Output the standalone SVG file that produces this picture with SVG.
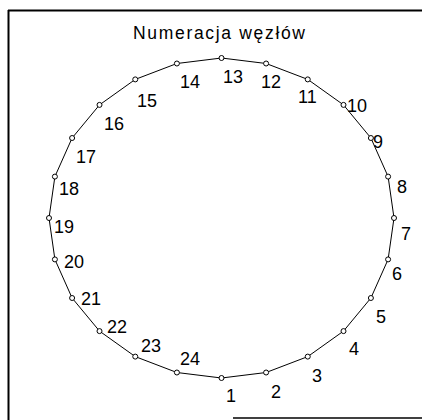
<svg xmlns="http://www.w3.org/2000/svg" width="422" height="420" viewBox="0 0 422 420">
<style>
.n{fill:#fff;stroke:#000;stroke-width:1}
.t{font-family:"Liberation Sans",Arial,sans-serif;font-size:18px;fill:#000}
.ti{font-family:"Liberation Sans",Arial,sans-serif;font-size:17.5px;fill:#000}
.f{stroke:#000;fill:none}
</style>
<rect width="422" height="420" fill="#fff"/>
<g id="frame">
<line class="f" x1="8" y1="10.5" x2="422" y2="10.5" stroke-width="2"/>
<line class="f" x1="8.5" y1="10" x2="8.5" y2="420" stroke-width="2"/>
<line class="f" x1="233" y1="418" x2="422" y2="418" stroke-width="1.5"/>
</g>
<text class="ti" x="133" y="39" textLength="172" lengthAdjust="spacing">Numeracja węzłów</text>
<g id="connectors">
<polygon class="f" stroke-width="1" points="221.5,378 266.1,372.5 307.75,356.6 343.5,331.1 370.9,298 388.1,259.4 394,218 388.1,176.6 370.9,138 343.5,104.9 307.75,79.4 266.1,63.5 221.5,58 176.9,63.5 135.25,79.4 99.5,104.9 72.1,138 54.9,176.6 49,218 54.9,259.4 72.1,298 99.5,331.1 135.25,356.6 176.9,372.5"/>
</g>
<g id="node1"><circle class="n" cx="221.5" cy="378" r="2.5"/><text class="t" x="226" y="402">1</text></g>
<g id="node2"><circle class="n" cx="266.1" cy="372.5" r="2.5"/><text class="t" x="271" y="398">2</text></g>
<g id="node3"><circle class="n" cx="307.75" cy="356.6" r="2.5"/><text class="t" x="312" y="382">3</text></g>
<g id="node4"><circle class="n" cx="343.5" cy="331.1" r="2.5"/><text class="t" x="349" y="355">4</text></g>
<g id="node5"><circle class="n" cx="370.9" cy="298" r="2.5"/><text class="t" x="376" y="323">5</text></g>
<g id="node6"><circle class="n" cx="388.1" cy="259.4" r="2.5"/><text class="t" x="392" y="280">6</text></g>
<g id="node7"><circle class="n" cx="394" cy="218" r="2.5"/><text class="t" x="401" y="240">7</text></g>
<g id="node8"><circle class="n" cx="388.1" cy="176.6" r="2.5"/><text class="t" x="397" y="193">8</text></g>
<g id="node9"><circle class="n" cx="370.9" cy="138" r="2.5"/><text class="t" x="373" y="148">9</text></g>
<g id="node10"><circle class="n" cx="343.5" cy="104.9" r="2.5"/><text class="t" x="347" y="112">10</text></g>
<g id="node11"><circle class="n" cx="307.75" cy="79.4" r="2.5"/><text class="t" x="298" y="103">11</text></g>
<g id="node12"><circle class="n" cx="266.1" cy="63.5" r="2.5"/><text class="t" x="261" y="88">12</text></g>
<g id="node13"><circle class="n" cx="221.5" cy="58" r="2.5"/><text class="t" x="223" y="83">13</text></g>
<g id="node14"><circle class="n" cx="176.9" cy="63.5" r="2.5"/><text class="t" x="180" y="88">14</text></g>
<g id="node15"><circle class="n" cx="135.25" cy="79.4" r="2.5"/><text class="t" x="137" y="107">15</text></g>
<g id="node16"><circle class="n" cx="99.5" cy="104.9" r="2.5"/><text class="t" x="104" y="130">16</text></g>
<g id="node17"><circle class="n" cx="72.1" cy="138" r="2.5"/><text class="t" x="76" y="163">17</text></g>
<g id="node18"><circle class="n" cx="54.9" cy="176.6" r="2.5"/><text class="t" x="59" y="195">18</text></g>
<g id="node19"><circle class="n" cx="49" cy="218" r="2.5"/><text class="t" x="54" y="233">19</text></g>
<g id="node20"><circle class="n" cx="54.9" cy="259.4" r="2.5"/><text class="t" x="64" y="268">20</text></g>
<g id="node21"><circle class="n" cx="72.1" cy="298" r="2.5"/><text class="t" x="81" y="305">21</text></g>
<g id="node22"><circle class="n" cx="99.5" cy="331.1" r="2.5"/><text class="t" x="107" y="333">22</text></g>
<g id="node23"><circle class="n" cx="135.25" cy="356.6" r="2.5"/><text class="t" x="141" y="352">23</text></g>
<g id="node24"><circle class="n" cx="176.9" cy="372.5" r="2.5"/><text class="t" x="180" y="365">24</text></g>
</svg>
